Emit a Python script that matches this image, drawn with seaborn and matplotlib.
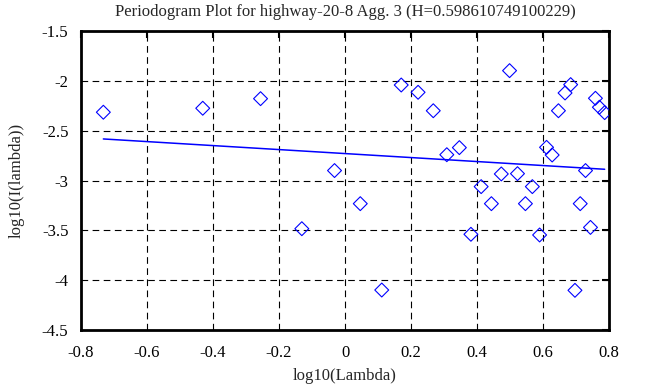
import numpy as np
import pandas as pd
import matplotlib
matplotlib.use("Agg")
import matplotlib.pyplot as plt
import seaborn as sns
from matplotlib.ticker import FuncFormatter

# periodogram points (log10 lambda, log10 I(lambda))
log_lambda = [-0.732, -0.431, -0.256, -0.032, -0.131, 0.046, 0.111, 0.170, 0.221,
              0.267, 0.308, 0.346, 0.412, 0.381, 0.443, 0.473, 0.498, 0.522,
              0.546, 0.567, 0.589, 0.610, 0.627, 0.646, 0.666, 0.683, 0.696,
              0.712, 0.728, 0.743, 0.758, 0.770, 0.786]
log_power = [-2.315, -2.275, -2.179, -2.900, -3.483, -3.232, -4.098, -2.042, -2.115,
             -2.300, -2.741, -2.670, -3.061, -3.539, -3.232, -2.934, -1.898, -2.931,
             -3.232, -3.061, -3.546, -2.667, -2.744, -2.300, -2.122, -2.038, -4.101,
             -3.232, -2.900, -3.470, -2.175, -2.265, -2.319]

# fitted regression line end points
fit_x = [-0.732, 0.786]
fit_y = [-2.583, -2.887]

title = "Periodogram Plot for highway-20-8 Agg. 3 (H=0.598610749100229)"

df = pd.DataFrame({"x": log_lambda, "y": log_power})
fit = pd.DataFrame({"x": fit_x, "y": fit_y})

sns.set_style("white")
plt.rcParams["font.family"] = ["Liberation Serif", "DejaVu Serif"]
plt.rcParams["axes.unicode_minus"] = False

fig = plt.figure(figsize=(6.63, 3.87), dpi=100)
ax = fig.add_axes([0.122, 0.147, 0.797, 0.773])

sns.scatterplot(data=df, x="x", y="y", ax=ax, marker="D", s=50,
                facecolors="none", edgecolor="blue", linewidth=0.8, zorder=3)
sns.lineplot(data=fit, x="x", y="y", ax=ax, color="blue", linewidth=1.1, zorder=4)

ax.set_xlim(-0.8, 0.8)
ax.set_ylim(-4.5, -1.5)
ax.set_xticks(np.arange(-0.8, 0.81, 0.2))
ax.set_yticks(np.arange(-4.5, -1.49, 0.5))
fmt = FuncFormatter(lambda v, p: "%g" % (round(v, 2) + 0.0))
ax.xaxis.set_major_formatter(fmt)
ax.yaxis.set_major_formatter(fmt)

ax.grid(True, color="black", linestyle=(0, (6, 4)), linewidth=0.8)
for sp in ax.spines.values():
    sp.set_color("black")
    sp.set_linewidth(2)
ax.tick_params(direction="in", length=5, width=1.5, top=True, right=True,
               labelsize=12, colors="black")
ax.tick_params(axis="x", pad=11)
ax.tick_params(axis="y", pad=9)

ax.set_xlabel("log10(Lambda)", fontsize=12, labelpad=5)
ax.set_ylabel("log10(I(lambda))", fontsize=12, labelpad=12)
ax.set_title(title, fontsize=12, pad=11)

fig.savefig("out.png", dpi=100)
